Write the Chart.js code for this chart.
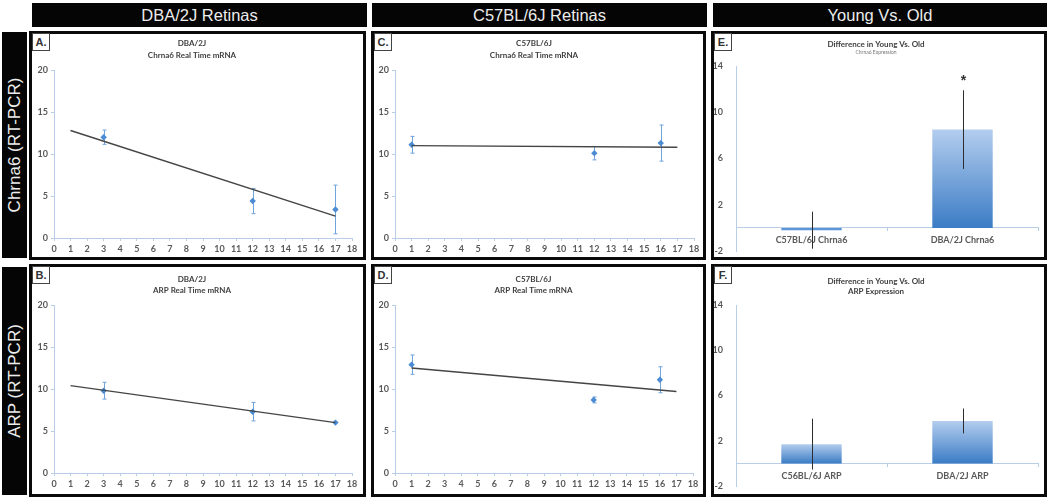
<!DOCTYPE html>
<html>
<head>
<meta charset="utf-8">
<script src="https://cdn.jsdelivr.net/npm/chart.js@4.4.1/dist/chart.umd.min.js"></script>
<style>
html,body{margin:0;padding:0;background:#fff;}
body{width:1050px;height:500px;position:relative;overflow:hidden;font-family:"Liberation Sans",Arial,sans-serif;}
.hdr{position:absolute;top:3px;height:24px;background:#050505;color:#ececec;font-size:16.5px;display:flex;align-items:center;justify-content:center;}
.row{position:absolute;left:2px;width:25px;background:#050505;color:#ececec;}
.row span{position:absolute;left:50%;top:50%;transform:translate(-50%,-50%) rotate(-90deg);white-space:nowrap;font-size:17px;line-height:20px;}
.panel{position:absolute;border:3px solid #0a0a0a;box-sizing:border-box;background:#fff;}
.panel canvas{position:absolute;left:0;top:0;}
.lbl{position:absolute;left:0;top:-1px;width:16px;height:16px;border:1px solid #444;background:#fff;font:bold 11px "Liberation Sans",Arial,sans-serif;color:#333;line-height:16px;text-align:center;z-index:2;}
</style>
</head>
<body>
<div class="hdr" style="left:32px;width:335px;">DBA/2J Retinas</div>
<div class="hdr" style="left:372px;width:335px;">C57BL/6J Retinas</div>
<div class="hdr" style="left:713px;width:334px;">Young Vs. Old</div>

<div class="row" style="top:32px;height:226px;"><span>Chrna6 (RT-PCR)</span></div>
<div class="row" style="top:267px;height:228px;"><span>ARP (RT-PCR)</span></div>

<div class="panel" style="left:29px;top:31px;width:337px;height:229px;"><div class="lbl">A.</div><canvas id="cA" width="331" height="223"></canvas></div>
<div class="panel" style="left:29px;top:264px;width:337px;height:233px;"><div class="lbl">B.</div><canvas id="cB" width="331" height="227"></canvas></div>
<div class="panel" style="left:371px;top:31px;width:335px;height:229px;"><div class="lbl">C.</div><canvas id="cC" width="329" height="223"></canvas></div>
<div class="panel" style="left:371px;top:264px;width:335px;height:233px;"><div class="lbl">D.</div><canvas id="cD" width="329" height="227"></canvas></div>
<div class="panel" style="left:711px;top:31px;width:336px;height:229px;"><div class="lbl">E.</div><canvas id="cE" width="330" height="223"></canvas></div>
<div class="panel" style="left:711px;top:264px;width:336px;height:233px;"><div class="lbl">F.</div><canvas id="cF" width="330" height="227"></canvas></div>

<script>
// ---------------- data ----------------
const xTicks = [0,1,2,3,4,5,6,7,8,9,10,11,12,13,14,15,16,17,18];
const yTicksLine = [0,5,10,15,20];
const yTicksBar = [-2,2,6,10,14];

// A. DBA/2J Chrna6
const aTitle = ['DBA/2J','Chrna6 Real Time mRNA'];
const aAge = [3,12,17];
const aMean = [12.0,4.4,3.4];
const aErr = [0.85,1.5,2.9];
const aTrendX = [1,17];
const aTrendY = [12.8,2.6];

// B. DBA/2J ARP
const bTitle = ['DBA/2J','ARP Real Time mRNA'];
const bAge = [3,12,17];
const bMean = [9.8,7.3,6.0];
const bErr = [1.0,1.1,0];
const bTrendX = [1,17];
const bTrendY = [10.4,6.0];

// C. C57BL/6J Chrna6
const cTitle = ['C57BL/6J','Chrna6 Real Time mRNA'];
const cAge = [1,12,16];
const cMean = [11.1,10.1,11.3];
const cErr = [1.0,0.8,2.15];
const cTrendX = [1,17];
const cTrendY = [11.0,10.8];

// D. C57BL/6J ARP
const dTitle = ['C57BL/6J','ARP Real Time mRNA'];
const dAge = [1,12,16];
const dMean = [12.9,8.7,11.1];
const dErr = [1.15,0.35,1.55];
const dTrendX = [1,17];
const dTrendY = [12.5,9.7];

// E. Difference Chrna6
const eTitle = 'Difference in Young Vs. Old';
const eSubtitle = 'Chrna6 Expression';
const eLabels = ['C57BL/6J Chrna6','DBA/2J Chrna6'];
const eValues = [-0.2,8.5];
const eErr = [1.6,3.4];
const eMarks = ['','*'];

// F. Difference ARP
const fTitle = ['Difference in Young Vs. Old','ARP Expression'];
const fLabels = ['C56BL/6J ARP','DBA/2J ARP'];
const fValues = [1.7,3.75];
const fErr = [2.25,1.1];
const fMarks = ['',''];

// ---------------- styling ----------------
Chart.defaults.font.family = 'Lato, "Open Sans", sans-serif';
Chart.defaults.color = '#595959';
const axisColor = '#b9cde6';
const tickFont = {size: 9, weight: 'bold'};

const errorBars = {
  id: 'errorBars',
  beforeDatasetsDraw(chart, args, o) { if (o.errors && o.under) drawErr(chart, o); },
  afterDatasetsDraw(chart, args, o) { if (o.errors && !o.under) drawErr(chart, o); }
};
function drawErr(chart, o) {
  const idx = o.datasetIndex || 0;
  const meta = chart.getDatasetMeta(idx);
  const ys = chart.scales.y;
  const c = chart.ctx;
  c.save();
  c.strokeStyle = o.color; c.lineWidth = o.width || 1;
  meta.data.forEach((el, i) => {
    const e = o.errors[i];
    const v = meta.controller.getParsed(i).y;
    const x = Math.round(el.x) + 0.5;
    const y1 = ys.getPixelForValue(v + e), y2 = ys.getPixelForValue(v - e);
    if (e > 0) {
      c.beginPath(); c.moveTo(x, y1); c.lineTo(x, y2);
      if (o.cap) {
        c.moveTo(x - o.cap, y1); c.lineTo(x + o.cap, y1);
        c.moveTo(x - o.cap, y2); c.lineTo(x + o.cap, y2);
      }
      c.stroke();
    }
    if (o.marks && o.marks[i]) {
      c.fillStyle = '#333'; c.font = 'bold 14px "Liberation Sans", Arial, sans-serif';
      c.textAlign = 'center'; c.textBaseline = 'alphabetic';
      c.fillText(o.marks[i], x, y1 - o.markGap);
    }
  });
  c.restore();
}
Chart.register(errorBars);

function inner(id) {
  const cv = document.getElementById(id);
  const r = cv.getBoundingClientRect();
  return {x: r.left, y: r.top, w: cv.width, h: cv.height};
}

// nudge the layout so the chart area lands on the wanted rectangle
function settle(chart, p, area, lay, layoutPad, titlePad) {
  for (let k = 0; k < 4; k++) {
    const ca = chart.chartArea;
    const dl = (area.l - p.x) - ca.left;
    const dr = ca.right - (area.r - p.x);
    const dt = (area.t - p.y) - ca.top;
    const db = ca.bottom - (area.b - p.y);
    if (Math.abs(dl) + Math.abs(dr) + Math.abs(dt) + Math.abs(db) < 0.2) break;
    lay.yW += dl;
    layoutPad.right += dr;
    titlePad.bottom = Math.max(0, titlePad.bottom + dt);
    if (lay.xH !== undefined) lay.xH += db; else layoutPad.bottom = Math.max(0, layoutPad.bottom + db);
    chart.update('none');
  }
}

function scatterChart(id, title, age, mean, err, trendX, trendY, area, titleY1, LH) {
  const p = inner(id);
  const topRegion = area.t - p.y;
  const pt = titleY1 - p.y - LH / 2;
  const lay = {yW: area.l - p.x, xH: p.y + p.h - area.b};
  const layoutPad = {left: 0, right: p.x + p.w - area.r, top: 0, bottom: 0};
  const titlePad = {top: pt, bottom: topRegion - pt - 2 * LH};
  const chart = new Chart(document.getElementById(id), {
    type: 'scatter',
    data: {
      datasets: [
        {data: age.map((a, i) => ({x: a, y: mean[i]})), pointStyle: 'rectRot', pointRadius: 3.2,
         backgroundColor: '#4b8bd3', borderColor: '#4b8bd3', borderWidth: 0, order: 1},
        {data: trendX.map((a, i) => ({x: a, y: trendY[i]})), showLine: true, pointRadius: 0,
         borderColor: '#454545', borderWidth: 1.4, order: 0}
      ]
    },
    options: {
      responsive: false, animation: false, events: [],
      layout: {padding: layoutPad},
      plugins: {
        legend: {display: false}, tooltip: {enabled: false},
        title: {display: true, text: title, color: '#404040',
                font: {size: 8, weight: 'bold', lineHeight: LH / 8}, padding: titlePad},
        errorBars: {errors: err, color: '#6fa3db', width: 1, cap: 2, under: true}
      },
      scales: {
        x: {type: 'linear', min: 0, max: 18,
            afterBuildTicks: s => { s.ticks = xTicks.map(v => ({value: v})); },
            afterFit: s => { s.height = lay.xH; },
            grid: {drawOnChartArea: false, drawTicks: true, tickLength: 3, color: axisColor},
            border: {display: true, color: axisColor},
            ticks: {font: tickFont, padding: 3, maxRotation: 0, autoSkip: false}},
        y: {min: 0, max: 20,
            afterBuildTicks: s => { s.ticks = yTicksLine.map(v => ({value: v})); },
            afterFit: s => { s.width = lay.yW; },
            grid: {drawOnChartArea: false, drawTicks: true, tickLength: 3, color: axisColor},
            border: {display: true, color: axisColor},
            ticks: {font: tickFont, padding: 3}}
      }
    }
  });
  settle(chart, p, area, lay, layoutPad, titlePad);
  return chart;
}

function barGradient(ctx) {
  const chart = ctx.chart; const ys = chart.scales.y;
  if (!ys || !ctx.parsed) return '#5b97d6';
  const v = ctx.parsed.y;
  if (v < 0) return '#5b97d6';
  const t = ys.getPixelForValue(v), b = ys.getPixelForValue(0);
  if (!isFinite(t) || !isFinite(b) || t === b) return '#5b97d6';
  const g = chart.ctx.createLinearGradient(0, t, 0, b);
  g.addColorStop(0, '#b3cdee'); g.addColorStop(1, '#3b7cc5');
  return g;
}

function barChart(id, labels, values, err, marks, titleOpts, subtitleOpts, area) {
  const p = inner(id);
  const lay = {yW: area.l - p.x};
  const layoutPad = {left: 0, right: p.x + p.w - area.r, top: 0, bottom: p.y + p.h - area.b};
  const chart = new Chart(document.getElementById(id), {
    type: 'bar',
    data: {labels: labels, datasets: [{data: values, backgroundColor: barGradient, borderWidth: 0,
           categoryPercentage: 1, barPercentage: 0.4}]},
    options: {
      responsive: false, animation: false, events: [],
      layout: {padding: layoutPad},
      plugins: {
        legend: {display: false}, tooltip: {enabled: false},
        title: titleOpts, subtitle: subtitleOpts,
        errorBars: {errors: err, color: '#2d2d2d', width: 1, cap: 0, under: false, marks: marks, markGap: 5}
      },
      scales: {
        x: {position: {y: 0},
            grid: {drawOnChartArea: false, drawTicks: true, tickLength: 3, color: axisColor},
            border: {display: true, color: axisColor},
            ticks: {font: tickFont, padding: 4, maxRotation: 0}},
        y: {min: -2, max: 14,
            afterBuildTicks: s => { s.ticks = yTicksBar.map(v => ({value: v})); },
            afterFit: s => { s.width = lay.yW; },
            grid: {drawOnChartArea: false, drawTicks: true, tickLength: 13, color: axisColor, tickColor: 'rgba(0,0,0,0)'},
            border: {display: true, color: axisColor},
            ticks: {font: tickFont, padding: 0}}
      }
    }
  });
  settle(chart, p, area, lay, layoutPad, subtitleOpts.display ? subtitleOpts.padding : titleOpts.padding);
  return chart;
}

scatterChart('cA', aTitle, aAge, aMean, aErr, aTrendX, aTrendY, {l: 54, r: 352, t: 70, b: 238}, 43, 12);
scatterChart('cB', bTitle, bAge, bMean, bErr, bTrendX, bTrendY, {l: 54, r: 352, t: 305, b: 473}, 279.3, 11.5);
scatterChart('cC', cTitle, cAge, cMean, cErr, cTrendX, cTrendY, {l: 395, r: 694, t: 70, b: 238}, 43, 12);
scatterChart('cD', dTitle, dAge, dMean, dErr, dTrendX, dTrendY, {l: 395, r: 693, t: 305, b: 473}, 279.3, 11.5);

barChart('cE', eLabels, eValues, eErr, eMarks,
  {display: true, text: eTitle, color: '#404040', font: {size: 8, weight: 'bold', lineHeight: 1.25}, padding: {top: 5, bottom: 0}},
  {display: true, text: eSubtitle, color: '#777', font: {size: 5, lineHeight: 1.2}, padding: {top: 0, bottom: 11}},
  {l: 736, r: 1038, t: 66, b: 251});
barChart('cF', fLabels, fValues, fErr, fMarks,
  {display: true, text: fTitle, color: '#404040', font: {size: 8, weight: 'bold', lineHeight: 1.25}, padding: {top: 9, bottom: 9}},
  {display: false},
  {l: 736, r: 1038, t: 305, b: 486});
</script>
</body>
</html>
